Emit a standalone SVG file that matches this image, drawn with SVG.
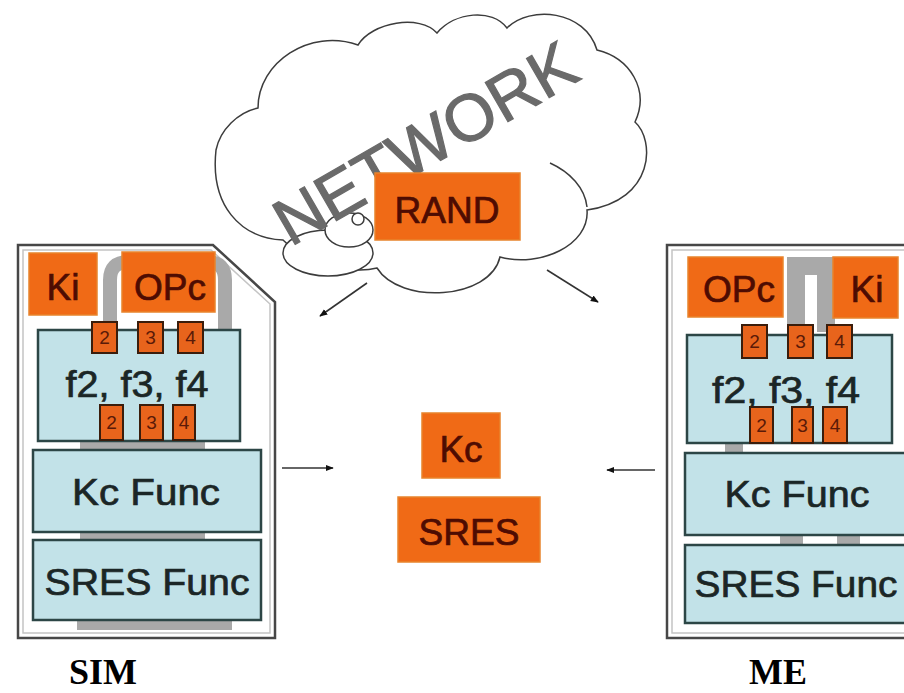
<svg xmlns="http://www.w3.org/2000/svg" width="904" height="693" viewBox="0 0 904 693">
<style>
.org{fill:#f06a16;stroke:#e8842c;stroke-width:1.5}
.sq{fill:#e8641c;stroke:#3a1d0c;stroke-width:2}
.blue{fill:#c2e2e8;stroke:#2c4646;stroke-width:2.5}
.t{font-family:"Liberation Sans",Arial,sans-serif;text-anchor:middle}
.ot{fill:#4e0c02;stroke:#4e0c02;stroke-width:0.7;font-size:37px}
.bt{fill:#1b2626;stroke:#1b2626;stroke-width:0.7;font-size:37px}
.dg{fill:#5a1a08;font-size:19px;font-family:"Liberation Sans",Arial,sans-serif;text-anchor:middle}
.gb{fill:#a9a9a9}
.card{fill:#ffffff;stroke:#474747;stroke-width:2.5}
.cardin{fill:none;stroke:#c4c4c4;stroke-width:1.5}
.cloud{fill:#ffffff;stroke:#3c3c3c;stroke-width:1.5}
.arr{stroke:#333;stroke-width:1.6;fill:none;marker-end:url(#ah)}
.lbl{font-family:"Liberation Serif","Times New Roman",serif;font-weight:bold;font-size:36px;fill:#000;text-anchor:middle}
</style>
<defs>
<marker id="ah" viewBox="0 0 10 10" refX="9" refY="5" markerWidth="5" markerHeight="5" orient="auto" markerUnits="strokeWidth">
<path d="M0,1 L10,5 L0,9 Z" fill="#111"/>
</marker>
</defs>
<rect width="904" height="693" fill="#ffffff"/>

<g id="cloud">
<path class="cloud" d="M283,240 C240,238 210,205 216,150 C220,130 238,112 258,108 C258,62 310,28 358,45 C372,22 420,14 437,33 C455,12 492,8 507,28 C530,5 585,10 597,50 C630,58 650,90 635,122 C655,140 655,200 587,210 C590,245 540,268 500,257 C490,300 400,305 377,268 C350,275 305,262 283,240 Z"/>
<path class="cloud" fill="none" d="M550,163 C570,172 585,188 587,207"/>
<ellipse class="cloud" cx="328" cy="253" rx="45" ry="23"/>
<ellipse class="cloud" cx="349" cy="230" rx="24" ry="17"/>
<circle class="cloud" cx="358" cy="219" r="6"/>
<g transform="translate(425,143) rotate(-30)">
<text class="t" x="0" y="23" font-size="66" fill="#6a6a6a" stroke="#6a6a6a" stroke-width="1.2">NETWORK</text>
</g>
</g>

<g id="rand">
<rect class="org" x="375" y="173" width="145" height="67"/>
<text class="t ot" x="447" y="223">RAND</text>
</g>

<g id="sim">
<path class="card" d="M18,245 L213,245 L275,302 L275,638 L18,638 Z"/>
<path class="cardin" d="M23,250 L211,250 L270,304 L270,633 L23,633 Z"/>
<path d="M110,332 L110,280 Q110,262 128,262 L208,262 Q225,262 225,280 L225,332" fill="none" stroke="#a9a9a9" stroke-width="14"/>
<rect class="gb" x="80" y="441" width="125" height="10"/>
<rect class="gb" x="80" y="531" width="125" height="10"/>
<rect class="gb" x="77" y="620" width="155" height="10"/>
<g id="sim-ki">
<rect class="org" x="29" y="253" width="68" height="62"/>
<text class="t ot" x="63" y="300">Ki</text>
</g>
<g id="sim-opc">
<rect class="org" x="122" y="252" width="93" height="60"/>
<text class="t ot" x="170" y="300">OPc</text>
</g>
<g id="sim-f">
<rect class="blue" x="38" y="330" width="202" height="111"/>
<text class="t bt" x="137" y="397" font-size="34" textLength="143" lengthAdjust="spacingAndGlyphs">f2, f3, f4</text>
<rect class="sq" x="92" y="322" width="25" height="31"/><text class="dg" x="104.5" y="344">2</text>
<rect class="sq" x="138" y="322" width="25" height="31"/><text class="dg" x="150.5" y="344">3</text>
<rect class="sq" x="178" y="322" width="25" height="31"/><text class="dg" x="190.5" y="344">4</text>
<rect class="sq" x="100" y="405" width="23" height="35"/><text class="dg" x="111.5" y="429">2</text>
<rect class="sq" x="140" y="405" width="23" height="35"/><text class="dg" x="151.5" y="429">3</text>
<rect class="sq" x="173" y="405" width="22" height="35"/><text class="dg" x="184" y="429">4</text>
</g>
<g id="sim-kc">
<rect class="blue" x="33" y="450" width="228" height="82"/>
<text class="t bt" x="146" y="505" textLength="148" lengthAdjust="spacingAndGlyphs">Kc Func</text>
</g>
<g id="sim-sres">
<rect class="blue" x="33" y="540" width="228" height="80"/>
<text class="t bt" x="147" y="595" textLength="205" lengthAdjust="spacingAndGlyphs">SRES Func</text>
</g>
<text class="lbl" x="103" y="684">SIM</text>
</g>

<g id="me">
<path class="card" d="M910,245 L667,245 L667,638 L910,638"/>
<path class="cardin" d="M910,250 L672,250 L672,633 L910,633"/>
<path d="M796,332 L796,266 L826,266 L826,332" fill="none" stroke="#a9a9a9" stroke-width="18"/>
<rect class="gb" x="725" y="443" width="18" height="10"/>
<rect class="gb" x="780" y="534" width="23" height="12"/>
<rect class="gb" x="837" y="534" width="23" height="12"/>
<g id="me-opc">
<rect class="org" x="688" y="257" width="95" height="60"/>
<text class="t ot" x="739" y="302">OPc</text>
</g>
<g id="me-ki">
<rect class="org" x="833" y="257" width="65" height="61"/>
<text class="t ot" x="867" y="302">Ki</text>
</g>
<g id="me-f">
<rect class="blue" x="687" y="335" width="205" height="108"/>
<text class="t bt" x="786" y="403" font-size="34" textLength="148" lengthAdjust="spacingAndGlyphs">f2, f3, f4</text>
<rect class="sq" x="742" y="325" width="25" height="33"/><text class="dg" x="754.5" y="348">2</text>
<rect class="sq" x="788" y="325" width="25" height="33"/><text class="dg" x="800.5" y="348">3</text>
<rect class="sq" x="827" y="325" width="25" height="33"/><text class="dg" x="839.5" y="348">4</text>
<rect class="sq" x="750" y="407" width="23" height="36"/><text class="dg" x="761.5" y="432">2</text>
<rect class="sq" x="792" y="407" width="21" height="36"/><text class="dg" x="802.5" y="432">3</text>
<rect class="sq" x="823" y="407" width="24" height="36"/><text class="dg" x="835" y="432">4</text>
</g>
<g id="me-kc">
<rect class="blue" x="685" y="453" width="230" height="82"/>
<text class="t bt" x="797" y="507" textLength="145" lengthAdjust="spacingAndGlyphs">Kc Func</text>
</g>
<g id="me-sres">
<rect class="blue" x="685" y="545" width="230" height="78"/>
<text class="t bt" x="796" y="597" textLength="203" lengthAdjust="spacingAndGlyphs">SRES Func</text>
</g>
<text class="lbl" x="778" y="684">ME</text>
</g>

<g id="kc">
<rect class="org" x="422" y="413" width="78" height="65"/>
<text class="t ot" x="461" y="462">Kc</text>
</g>
<g id="sres">
<rect class="org" x="398" y="497" width="142" height="65"/>
<text class="t ot" x="469" y="545">SRES</text>
</g>

<g id="connectors">
<line class="arr" x1="367" y1="283" x2="320" y2="316"/>
<line class="arr" x1="547" y1="270" x2="598" y2="302"/>
<line class="arr" x1="282" y1="468" x2="333" y2="468"/>
<line class="arr" x1="655" y1="470" x2="607" y2="470"/>
</g>
</svg>
